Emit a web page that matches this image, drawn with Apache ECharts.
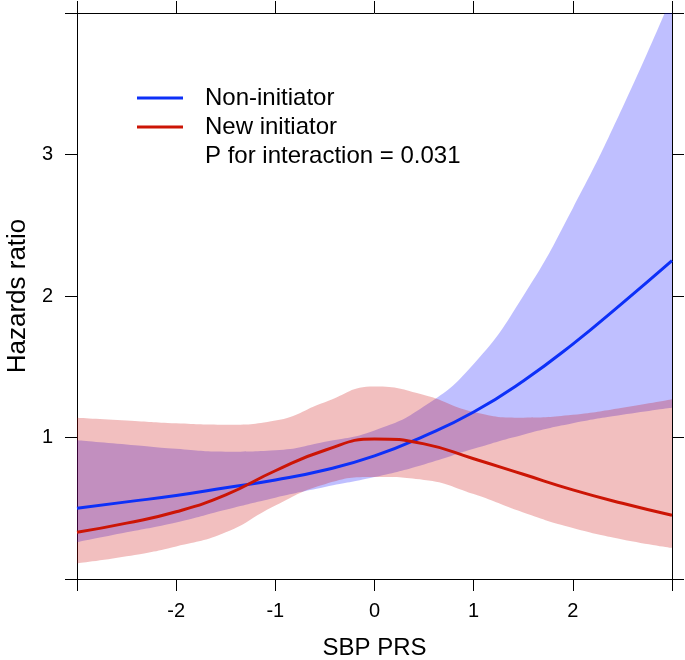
<!DOCTYPE html>
<html>
<head>
<meta charset="utf-8">
<script src="https://cdn.jsdelivr.net/npm/echarts@6/dist/echarts.min.js"></script>
<style>
  html, body { margin: 0; padding: 0; background: #fff; }
  #chart { width: 685px; height: 660px; }
</style>
</head>
<body>
<div id="chart"></div>
<script>
// SBP PRS grid (x values)
var xs = [-3, -2.5, -2, -1.5, -1, -0.5, 0, 0.5, 1, 1.5, 2, 2.5, 3];
// Non-initiator (blue)
var nonHR    = [0.50, 0.545, 0.59, 0.645, 0.70, 0.77, 0.87, 1.01, 1.18, 1.40, 1.66, 1.95, 2.25];
var nonLower = [0.26, 0.33, 0.40, 0.49, 0.575, 0.65, 0.72, 0.81, 0.92, 1.02, 1.10, 1.16, 1.21];
var nonUpper = [0.98, 0.95, 0.92, 0.90, 0.91, 0.97, 1.05, 1.22, 1.52, 2.00, 2.62, 3.33, 4.12];
// New initiator (red)
var newHR    = [0.33, 0.395, 0.475, 0.595, 0.765, 0.91, 0.99, 0.955, 0.85, 0.74, 0.63, 0.535, 0.45];
var newLower = [0.11, 0.16, 0.23, 0.33, 0.52, 0.67, 0.72, 0.70, 0.60, 0.47, 0.36, 0.28, 0.22];
var newUpper = [1.14, 1.12, 1.10, 1.09, 1.12, 1.25, 1.36, 1.30, 1.18, 1.14, 1.16, 1.21, 1.27];
// tick labels
var xTickLabels = ['-2', '-1', '0', '1', '2'];
var yTickLabels = ['1', '2', '3'];
var seriesNames = ['Non-initiator', 'New initiator'];
var pText = 'P for interaction = 0.031';

function diff(up, lo) { return up.map(function (u, i) { return +(u - lo[i]).toFixed(4); }); }

var BLUE = '#0d30f8';
var RED = '#cc1505';
var FONT = '"Liberation Sans", Arial, sans-serif';

var chart = echarts.init(document.getElementById('chart'));
function axisBase() {
  return {
    type: 'value',
    axisLine: { show: true, onZero: false, lineStyle: { color: '#000', width: 1 } },
    axisTick: { show: true, length: 12, lineStyle: { color: '#000', width: 1 } },
    splitLine: { show: false }
  };
}
var bandCommon = { type: 'line', xAxisIndex: 2, smooth: true, symbol: 'none', silent: true,
  lineStyle: { width: 0, opacity: 0 } };

chart.setOption({
  animation: false,
  backgroundColor: '#fff',
  grid: { left: 77, right: 13, top: 13, bottom: 81, containLabel: false, outerBoundsMode: 'none' },
  title: {
    text: pText, left: 200, top: 139,
    textStyle: { fontFamily: FONT, fontSize: 24, fontWeight: 'normal', color: '#000' }
  },
  legend: {
    data: seriesNames, orient: 'vertical', left: 132, top: 81,
    icon: 'rect', itemWidth: 46, itemHeight: 3, itemGap: 5,
    textStyle: { fontFamily: FONT, fontSize: 24, color: '#000', lineHeight: 24, padding: [0, 0, 0, 17] }
  },
  xAxis: [
    Object.assign(axisBase(), {
      position: 'bottom', min: -3, max: 3, interval: 1,
      axisLabel: {
        fontFamily: FONT, fontSize: 20, color: '#000', margin: 22,
        formatter: function (v) { var s = String(v); return xTickLabels.indexOf(s) >= 0 ? s : ''; }
      },
      name: 'SBP PRS', nameLocation: 'middle', nameGap: 57,
      nameTextStyle: { fontFamily: FONT, fontSize: 24, color: '#000' }
    }),
    Object.assign(axisBase(), {
      position: 'top', min: -3, max: 3, interval: 1, axisLabel: { show: false }
    }),
    { type: 'category', data: xs.map(String), boundaryGap: false, show: false }
  ],
  yAxis: [
    Object.assign(axisBase(), {
      position: 'left', min: 0, max: 4, interval: 1,
      axisLabel: {
        fontFamily: FONT, fontSize: 20, color: '#000', margin: 24,
        formatter: function (v) { var s = String(v); return yTickLabels.indexOf(s) >= 0 ? s : ''; }
      },
      name: 'Hazards ratio', nameLocation: 'middle', nameGap: 46,
      nameTextStyle: { fontFamily: FONT, fontSize: 26, color: '#000' }
    }),
    Object.assign(axisBase(), {
      position: 'right', min: 0, max: 4, interval: 1, axisLabel: { show: false }
    })
  ],
  series: [
    Object.assign({}, bandCommon, { name: 'nonLo', data: nonLower, stack: 'nonband' }),
    Object.assign({}, bandCommon, { name: 'nonBand', data: diff(nonUpper, nonLower), stack: 'nonband',
      areaStyle: { color: 'rgba(0,0,255,0.25)', opacity: 1 } }),
    Object.assign({}, bandCommon, { name: 'newLo', data: newLower, stack: 'newband' }),
    Object.assign({}, bandCommon, { name: 'newBand', data: diff(newUpper, newLower), stack: 'newband',
      areaStyle: { color: 'rgba(205,0,0,0.25)', opacity: 1 } }),
    { type: 'line', xAxisIndex: 2, name: seriesNames[0], data: nonHR, smooth: true, symbol: 'none',
      color: BLUE, lineStyle: { color: BLUE, width: 3 } },
    { type: 'line', xAxisIndex: 2, name: seriesNames[1], data: newHR, smooth: true, symbol: 'none',
      color: RED, lineStyle: { color: RED, width: 3 } }
  ]
});
</script>
</body>
</html>
